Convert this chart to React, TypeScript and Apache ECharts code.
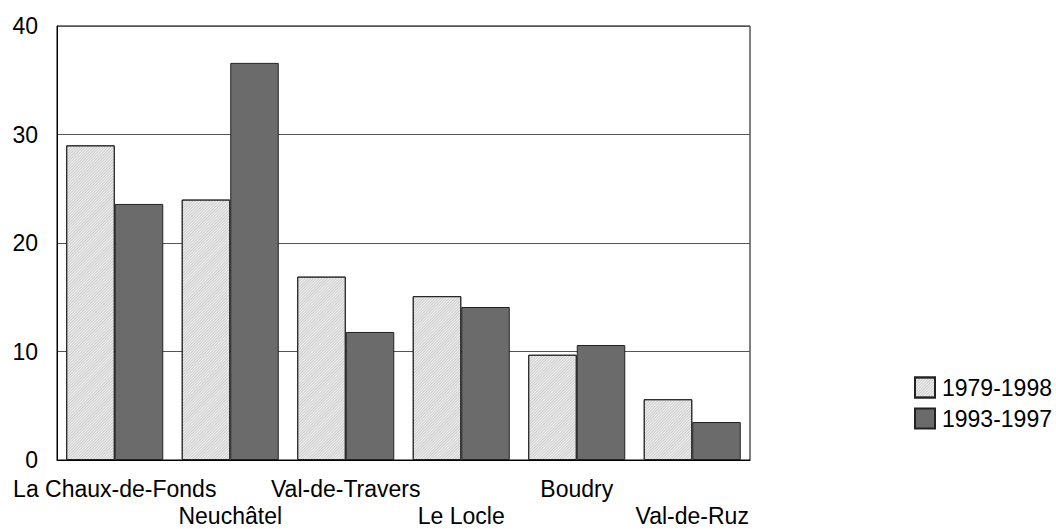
import React, { useEffect, useRef } from "react";
import * as echarts from "echarts";

const categories = ["La Chaux-de-Fonds", "Neuchâtel", "Val-de-Travers", "Le Locle", "Boudry", "Val-de-Ruz"];
const series1979 = [29.0, 24.0, 16.9, 15.1, 9.7, 5.6];
const series1993 = [23.6, 36.6, 11.8, 14.1, 10.6, 3.5];
const seriesNames = ["1979-1998", "1993-1997"];
const yTicks = { min: 0, max: 40, interval: 10 };

const FONT = "'Liberation Sans', Arial, sans-serif";
const FS = 23;

export default function App() {
  const ref = useRef<HTMLDivElement>(null);
  useEffect(() => {
    if (!ref.current) return;
    const chart = echarts.init(ref.current, null, { renderer: "svg" });
    chart.setOption({
      animation: false,
      backgroundColor: "#fff",
      textStyle: { fontFamily: FONT },
      grid: {
        left: 57,
        top: 26,
        right: 306,
        bottom: 68,
        show: true,
        borderColor: "#000",
        borderWidth: 1,
        backgroundColor: "transparent",
      },
      legend: {
        orient: "vertical",
        left: 909,
        top: 371,
        itemWidth: 20,
        itemHeight: 20,
        itemGap: 8,
        icon: "rect",
        textStyle: { fontSize: FS, color: "#000", fontFamily: FONT, padding: [0, 0, 0, 2] },
        data: seriesNames,
      },
      xAxis: {
        type: "category",
        data: categories,
        axisLine: { lineStyle: { color: "#000", width: 1 } },
        axisTick: { show: false },
        axisLabel: {
          interval: 0,
          margin: 15,
          fontSize: FS,
          color: "#000",
          lineHeight: 27,
          fontFamily: FONT,
          formatter: (v: string, i: number) => (i % 2 === 1 ? "\n" + v : v),
        },
        splitLine: { show: false },
      },
      yAxis: {
        type: "value",
        min: yTicks.min,
        max: yTicks.max,
        interval: yTicks.interval,
        axisLine: { show: true, lineStyle: { color: "#000", width: 1 } },
        axisTick: { show: false },
        axisLabel: { fontSize: FS, color: "#000", margin: 19, fontFamily: FONT },
        splitLine: { show: true, lineStyle: { color: "#555", width: 1 } },
      },
      series: [
        {
          name: seriesNames[0],
          type: "bar",
          data: series1979,
          barGap: "0%",
          barCategoryGap: "16%",
          itemStyle: {
            color: "#f0f0f0",
            borderColor: "#222",
            borderWidth: 1,
            decal: {
              symbol: "rect",
              symbolSize: 1,
              dashArrayX: [1, 0],
              dashArrayY: [1, 1],
              rotation: -Math.PI / 4,
              color: "rgba(190,190,190,0.7)",
            },
          },
        },
        {
          name: seriesNames[1],
          type: "bar",
          data: series1993,
          barGap: "0%",
          barCategoryGap: "16%",
          itemStyle: { color: "#6b6b6b", borderColor: "#222", borderWidth: 1 },
        },
      ],
    });
    return () => chart.dispose();
  }, []);
  return <div ref={ref} style={{ width: 1056, height: 529, position: "absolute", left: 0, top: 0 }} />;
}
